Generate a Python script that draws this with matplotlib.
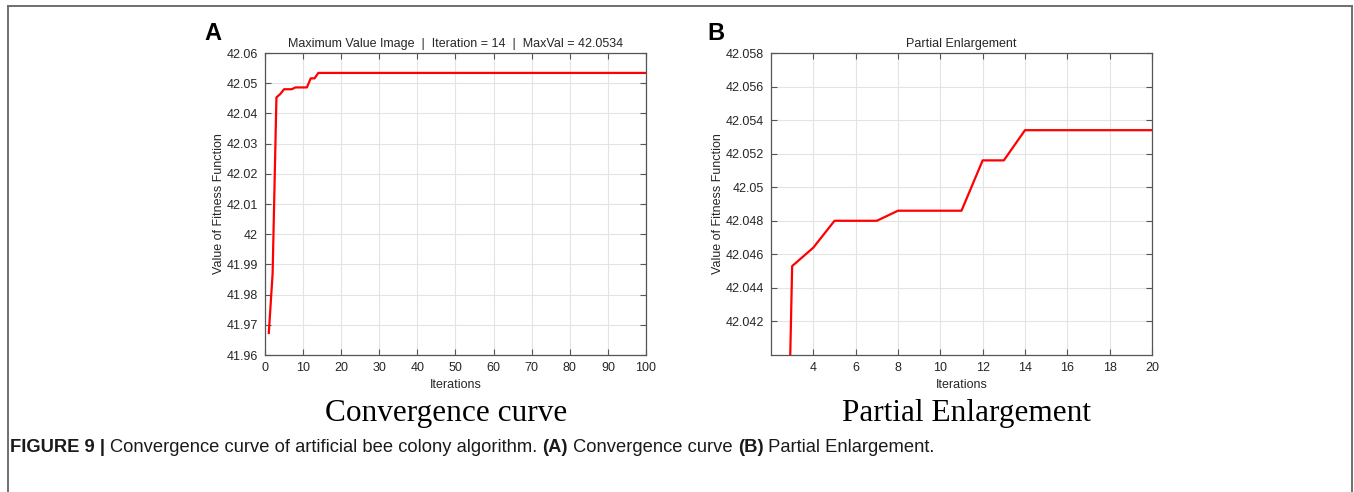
import matplotlib
matplotlib.use("Agg")
import matplotlib.pyplot as plt
from matplotlib.lines import Line2D
from matplotlib.ticker import FuncFormatter
import numpy as np

# best fitness value per iteration (flat after iteration 14 up to 100)
iterations = [1, 2, 3, 4, 5, 6, 7, 8, 9, 10, 11, 12, 13, 14, 100]
fitness = [41.9673, 41.9870, 42.0453, 42.0464, 42.0480, 42.0480, 42.0480,
           42.0486, 42.0486, 42.0486, 42.0486, 42.0516, 42.0516, 42.0534, 42.0534]

xticks_a = [0, 10, 20, 30, 40, 50, 60, 70, 80, 90, 100]
yticks_a = [41.96, 41.97, 41.98, 41.99, 42.00, 42.01, 42.02, 42.03, 42.04, 42.05, 42.06]
xticks_b = [4, 6, 8, 10, 12, 14, 16, 18, 20]
yticks_b = [42.042, 42.044, 42.046, 42.048, 42.050, 42.052, 42.054, 42.056, 42.058]

title_a = "Maximum Value Image  |  Iteration = 14  |  MaxVal = 42.0534"
title_b = "Partial Enlargement"
sub_a = "Convergence curve"
sub_b = "Partial Enlargement"

plt.rcParams["font.family"] = ["Liberation Sans", "DejaVu Sans"]

W, H = 1354, 492
fig = plt.figure(figsize=(W / 100, H / 100), dpi=100)

axis_col = "#555555"
text_col = "#262626"


def style(ax, xticks, yticks, xlim, ylim, title):
    ax.plot(iterations, fitness, color="#ff0000", lw=1.6)
    ax.set_xlim(*xlim)
    ax.set_ylim(*ylim)
    ax.set_xticks(xticks)
    ax.set_yticks(yticks)
    ax.yaxis.set_major_formatter(FuncFormatter(lambda v, p: "%g" % round(v, 4)))
    ax.grid(True, color="#e3e3e3", lw=0.8)
    ax.tick_params(direction="in", top=True, right=True, length=4, width=0.8,
                   colors=axis_col, labelcolor=text_col, labelsize=9, pad=5)
    for s in ax.spines.values():
        s.set_color(axis_col)
        s.set_linewidth(0.9)
    ax.set_title(title, fontsize=9, color=text_col, pad=4)
    ax.set_xlabel("Iterations", fontsize=9, color=text_col, labelpad=4)
    ax.set_ylabel("Value of Fitness Function", fontsize=9, color=text_col, labelpad=1)


ax_a = fig.add_axes([265 / W, 1 - 355 / H, 381 / W, 302 / H])
style(ax_a, xticks_a, yticks_a, (0, 100), (41.96, 42.06), title_a)

ax_b = fig.add_axes([771 / W, 1 - 355 / H, 381 / W, 302 / H])
style(ax_b, xticks_b, yticks_b, (2, 20), (42.040, 42.058), title_b)

# panel letters
fig.text(204 / W, 1 - 33 / H, "A", fontsize=17, fontweight="bold", va="center", ha="left")
fig.text(707 / W, 1 - 33 / H, "B", fontsize=17, fontweight="bold", va="center", ha="left")

# sub captions in serif
fig.text(446 / W, 1 - 414 / H, sub_a, fontsize=22.5, family="Liberation Serif",
         ha="center", va="center")
fig.text(966 / W, 1 - 414 / H, sub_b, fontsize=22.5, family="Liberation Serif",
         ha="center", va="center")

# frame (left, top, right)
fc = "#6e6e6e"
fig.add_artist(Line2D([8 / W, 8 / W], [0, 1 - 6 / H], color=fc, lw=1.4, transform=fig.transFigure))
fig.add_artist(Line2D([8 / W, 1352 / W], [1 - 6 / H, 1 - 6 / H], color=fc, lw=1.4, transform=fig.transFigure))
fig.add_artist(Line2D([1352 / W, 1352 / W], [0, 1 - 6 / H], color=fc, lw=1.4, transform=fig.transFigure))

# figure caption: bold prefix followed by normal text
parts = [("FIGURE 9 | ", "bold"), ("Convergence curve of artificial bee colony algorithm. ", "normal"),
         ("(A)", "bold"), (" Convergence curve ", "normal"), ("(B)", "bold"),
         (" Partial Enlargement.", "normal")]
fig.canvas.draw()
renderer = fig.canvas.get_renderer()
x = 10
for txt, wt in parts:
    t = fig.text(x / W, 1 - 447 / H, txt, fontsize=13.2, fontweight=wt, color="#1a1a1a",
                 ha="left", va="center")
    bb = t.get_window_extent(renderer)
    x += bb.width

fig.savefig("out.png", dpi=100)
